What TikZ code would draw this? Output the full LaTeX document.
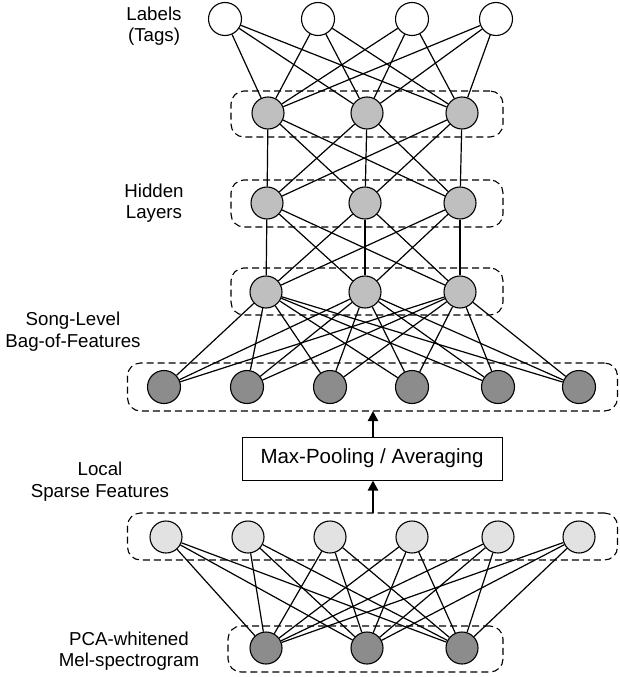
\documentclass[tikz,border=0pt]{standalone}
\usepackage{fontspec}
\setmainfont{Liberation Sans}
\usetikzlibrary{arrows.meta}
\definecolor{outfill}{RGB}{255,255,255}
\definecolor{hidfill}{RGB}{191,191,191}
\definecolor{darkfill}{RGB}{140,140,140}
\definecolor{lightfill}{RGB}{226,226,226}
\tikzset{
  neuron/.style={circle, draw=black, line width=1.1pt, minimum size=32pt, inner sep=0pt},
  outn/.style={neuron, fill=outfill, minimum size=33pt},
  hidn/.style={neuron, fill=hidfill},
  songn/.style={neuron, fill=darkfill, minimum size=33pt},
  locn/.style={neuron, fill=lightfill},
  pcan/.style={neuron, fill=darkfill},
  edge/.style={line width=1.2pt},
  grp/.style={draw=black, line width=1.1pt, dash pattern=on 7pt off 4pt, rounded corners=13pt, inner sep=0pt},
  lab/.style={font=\fontsize{18.7}{21.3}\selectfont, align=center, inner sep=0pt},
  poolbox/.style={draw=black, line width=1pt, inner sep=0pt, minimum width=260pt, minimum height=43pt, font=\fontsize{20.5}{24}\selectfont},
  flow/.style={line width=2.2pt, -{Triangle[length=10pt,width=10pt]}}
}
\begin{document}
\begin{tikzpicture}[x=1pt,y=-1pt]
\useasboundingbox (0,0) rectangle (619,677);
% group boxes
\node[grp, minimum width=272pt, minimum height=46pt] (g1) at (367,114) {};
\node[grp, minimum width=272pt, minimum height=47pt] (g2) at (367,203.5) {};
\node[grp, minimum width=272pt, minimum height=47pt] (g3) at (367,291.5) {};
\node[grp, minimum width=490pt, minimum height=48pt] (gs) at (372.5,387) {};
\node[grp, minimum width=490pt, minimum height=47pt] (gl) at (372.5,536.5) {};
\node[grp, minimum width=275pt, minimum height=46pt] (gp) at (365.5,649) {};
% neurons
\node[outn] (l1) at (225,19) {};
\node[outn] (l2) at (318,19) {};
\node[outn] (l3) at (412,19) {};
\node[outn] (l4) at (496,19) {};
\node[hidn] (a1) at (268,113) {};
\node[hidn] (a2) at (367,113) {};
\node[hidn] (a3) at (462,113) {};
\node[hidn] (b1) at (267,203) {};
\node[hidn] (b2) at (365,203) {};
\node[hidn] (b3) at (460,203) {};
\node[hidn] (c1) at (266,292) {};
\node[hidn] (c2) at (365,292) {};
\node[hidn] (c3) at (460,292) {};
\node[songn] (s1) at (164,387) {};
\node[songn] (s2) at (247,387) {};
\node[songn] (s3) at (330,387) {};
\node[songn] (s4) at (412,387) {};
\node[songn] (s5) at (498,387) {};
\node[songn] (s6) at (579,387) {};
\node[locn] (m1) at (166,537) {};
\node[locn] (m2) at (248,537) {};
\node[locn] (m3) at (330,537) {};
\node[locn] (m4) at (412,537) {};
\node[locn] (m5) at (498,537) {};
\node[locn] (m6) at (579,537) {};
\node[pcan] (p1) at (266,648) {};
\node[pcan] (p2) at (367,648) {};
\node[pcan] (p3) at (462,648) {};
% connections
\foreach \u in {l1,l2,l3,l4}{\foreach \v in {a1,a2,a3}{\draw[edge] (\u) -- (\v);}}
\foreach \u in {a1,a2,a3}{\foreach \v in {b1,b2,b3}{\draw[edge] (\u) -- (\v);}}
\foreach \u in {b1,b2,b3}{\foreach \v in {c1,c2,c3}{\draw[edge] (\u) -- (\v);}}
\foreach \u in {c1,c2,c3}{\foreach \v in {s1,s2,s3,s4,s5,s6}{\draw[edge] (\u) -- (\v);}}
\foreach \u in {m1,m2,m3,m4,m5,m6}{\foreach \v in {p1,p2,p3}{\draw[edge] (\u) -- (\v);}}
% pooling
\node[poolbox] (pool) at (372,458.5) {Max-Pooling / Averaging};
\coordinate (ltop) at (373,513);
\coordinate (sbot) at (373,411);
\draw[flow] (ltop) -- (pool.south -| ltop);
\draw[flow] (pool.north -| sbot) -- (sbot);
% labels
\node[lab, anchor=base] (t1) at (154,42) {Labels\\(Tags)};
\node[lab, anchor=base] (t2) at (154,218.3) {Hidden\\Layers};
\node[lab, anchor=base] (t3) at (73,347) {Song-Level\\Bag-of-Features};
\node[lab, anchor=base] (t4) at (100,497) {Local\\Sparse Features};
\node[lab, anchor=base] (t5) at (129,666.3) {PCA-whitened\\Mel-spectrogram};
\end{tikzpicture}
\end{document}
